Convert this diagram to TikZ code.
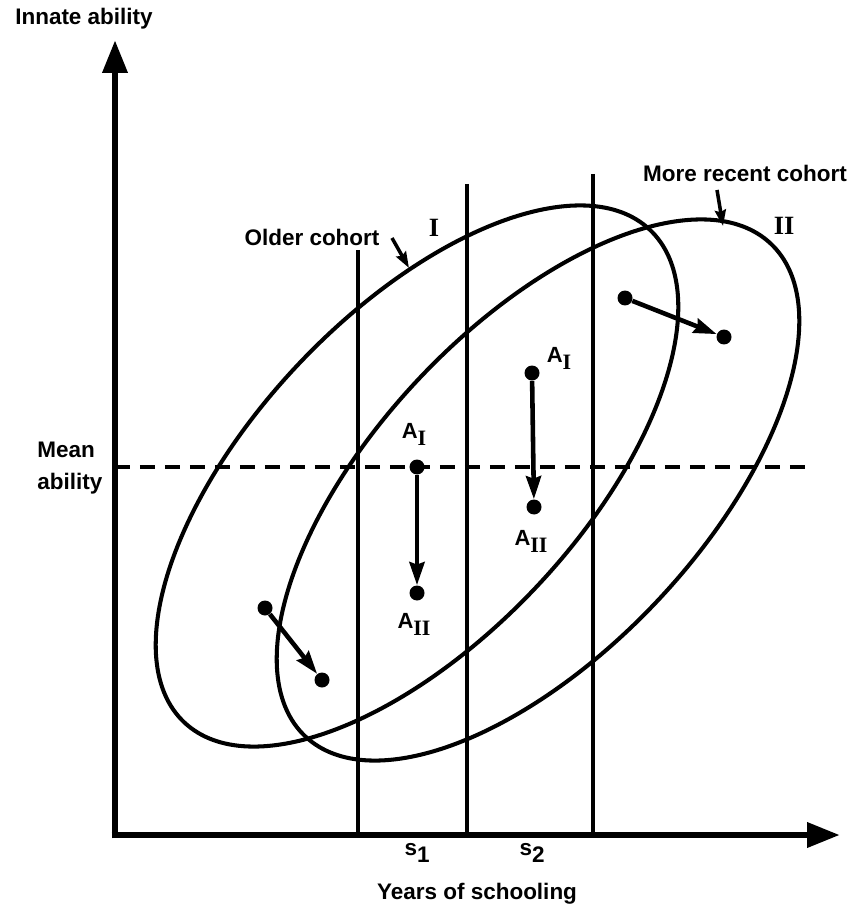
\documentclass[tikz,border=0pt]{standalone}
\usepackage{fontspec}
\setmainfont{Liberation Sans}
\newfontfamily\romfont{Liberation Serif}
\usetikzlibrary{arrows.meta}

\newcommand{\romsub}[1]{\raisebox{-0.6ex}{\romfont\bfseries #1}}

\begin{document}
\begin{tikzpicture}[x=0.02cm,y=-0.02cm,
  lab/.style={font=\bfseries\fontsize{12.8}{18}\selectfont, inner sep=0pt},
  alab/.style={font=\bfseries\fontsize{12.5}{14}\selectfont, inner sep=0pt},
  rom/.style={font=\romfont\bfseries\fontsize{15}{15}\selectfont, inner sep=0pt},
  axis/.style={line width=3.8pt, -{Triangle[length=0.66cm,width=0.48cm]}},
  curve/.style={line width=2.3pt},
  rule/.style={line width=1.9pt},
  dot/.style={circle, fill, inner sep=0pt, minimum size=0.3cm},
  move/.style={line width=2.6pt, -{Stealth[length=0.46cm,width=0.3cm,inset=0.05cm]}},
  pointer/.style={line width=2pt, -{Stealth[length=0.32cm,width=0.22cm,inset=0.04cm]}}]

\useasboundingbox (0,0) rectangle (852,908);

\coordinate (O) at (115,835);
\coordinate (ytip) at (115,40);
\coordinate (xtip) at (840,835);
\draw[axis] ([yshift=-1.9pt]O) -- (ytip);
\draw[axis] ([xshift=-1.9pt]O) -- (xtip);

\node[lab] (ylab) at (84,19) {Innate ability};
\node[lab] (xlab) at (477,894) {Years of schooling};
\node[lab, anchor=west, align=left] (mean) at (37,468) {Mean\\ability};

\draw[rule] (358,250) -- (358,835);
\draw[rule] (467,184) -- (467,835);
\draw[rule] (593,174) -- (593,835);

\node[lab] (s1) at (417,853) {s\raisebox{-0.6ex}{1}};
\node[lab] (s2) at (532,853) {s\raisebox{-0.6ex}{2}};

\draw[curve, dash pattern=on 0.3cm off 0.2cm] (115,467) -- (808,467);

\draw[curve, rotate around={46.6:(417,476)}] (417,476) ellipse [x radius=6.78cm, y radius=3.26cm];
\draw[curve, rotate around={46.6:(538,490)}] (538,490) ellipse [x radius=6.78cm, y radius=3.26cm];

\node[lab] (old) at (312,237) {Older cohort};
\coordinate (oldtail) at (392,238);
\coordinate (oldtip) at (409,268);
\draw[pointer] (oldtail) -- (oldtip);
\node[rom] (one) at (434,228) {I};

\node[lab] (new) at (745,173) {More recent cohort};
\coordinate (newtail) at (717,190);
\coordinate (newtip) at (723,226);
\draw[pointer] (newtail) -- (newtip);
\node[rom] (two) at (784,226) {II};

\node[dot] (a1) at (417,467) {};
\node[dot] (b1) at (417,593) {};
\draw[move] (a1) -- (b1);
\node[alab] (a1lab) at (414,434) {A\romsub{I}};
\node[alab] (b1lab) at (414,624) {A\romsub{II}};

\node[dot] (a2) at (532,373) {};
\node[dot] (b2) at (534,507) {};
\draw[move] (a2) -- (b2);
\node[alab] (a2lab) at (559,358) {A\romsub{I}};
\node[alab] (b2lab) at (531,541) {A\romsub{II}};

\node[dot] (c1) at (625,298) {};
\node[dot] (c2) at (724,337) {};
\draw[move] (c1) -- (c2);

\node[dot] (d1) at (265,608) {};
\node[dot] (d2) at (322,680) {};
\draw[move] (d1) -- (d2);

\end{tikzpicture}
\end{document}
